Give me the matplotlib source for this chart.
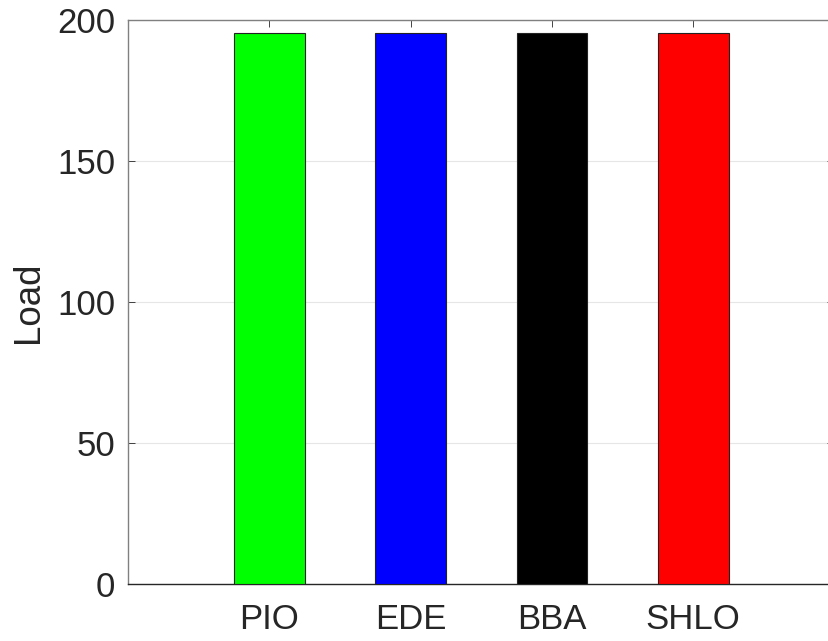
import matplotlib
matplotlib.use("Agg")
import matplotlib.pyplot as plt
import numpy as np

plt.rcParams['font.family'] = ['Liberation Sans', 'DejaVu Sans']

# データ
methods = ['PIO', 'EDE', 'BBA', 'SHLO']
load = [195.5, 195.5, 195.5, 195.5]
colors = ['#00ff00', '#0000ff', '#000000', '#ff0000']

fig = plt.figure(figsize=(8.29, 6.41), dpi=100, facecolor='white')
ax = fig.add_axes([0.1544, 0.0889, 0.8522, 0.8799])

x = np.arange(1, len(methods) + 1)
ax.bar(x, load, width=0.5, color=colors, edgecolor='#222222', linewidth=0.8, zorder=3)

ax.set_xlim(0, 5)
ax.set_ylim(0, 200)
ax.set_xticks(x)
ax.set_xticklabels(methods)
ax.set_yticks([0, 50, 100, 150, 200])
ax.set_ylabel('Load', fontsize=26.5, color='#262626', labelpad=8)

ax.tick_params(axis='both', direction='in', labelsize=25, colors='#262626',
               top=True, right=True, length=5, width=0.6)
ax.tick_params(axis='y', pad=9)
ax.tick_params(axis='x', pad=14)
for sp in ax.spines.values():
    sp.set_color('#808080')
    sp.set_linewidth(1.0)
ax.spines['bottom'].set_color('#262626')
ax.grid(axis='y', color='#e6e6e6', linewidth=0.8, zorder=0)
ax.set_axisbelow(True)

plt.savefig('out.png', dpi=100, facecolor='white')
plt.close()
